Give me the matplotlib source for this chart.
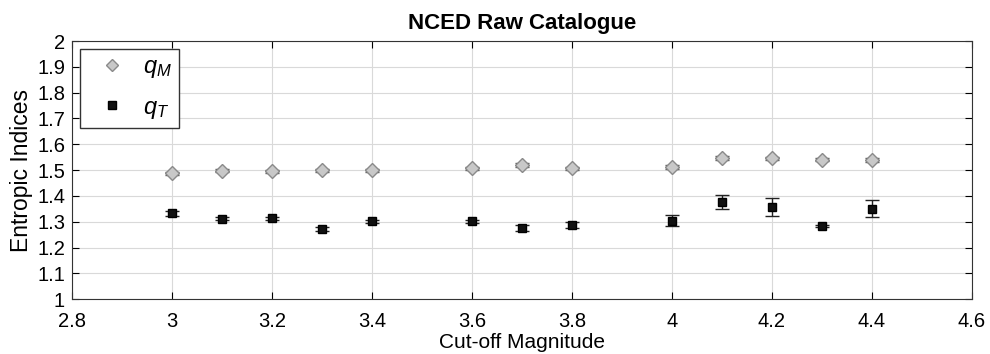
import matplotlib
matplotlib.use("Agg")
import matplotlib.pyplot as plt

plt.rcParams['font.family'] = ['Liberation Sans', 'DejaVu Sans']
plt.rcParams['mathtext.fontset'] = 'custom'
plt.rcParams['mathtext.it'] = 'Liberation Sans:italic'
plt.rcParams['mathtext.rm'] = 'Liberation Sans'

mag = [3.0, 3.1, 3.2, 3.3, 3.4, 3.6, 3.7, 3.8, 4.0, 4.1, 4.2, 4.3, 4.4]
qm = [1.488, 1.497, 1.495, 1.499, 1.500, 1.507, 1.519, 1.507, 1.513, 1.547, 1.545, 1.540, 1.539]
qm_err = [0.006, 0.006, 0.006, 0.006, 0.006, 0.006, 0.007, 0.006, 0.007, 0.008, 0.007, 0.006, 0.006]
qt = [1.332, 1.312, 1.313, 1.272, 1.301, 1.302, 1.276, 1.286, 1.304, 1.376, 1.357, 1.284, 1.351]
qt_err = [0.009, 0.007, 0.007, 0.008, 0.007, 0.006, 0.011, 0.011, 0.021, 0.028, 0.033, 0.005, 0.032]

fig = plt.figure(figsize=(9.9, 3.54), dpi=100)
ax = fig.add_axes([0.0727, 0.155, 0.909, 0.729])

# error bars first, markers on top
ax.errorbar(mag, qm, yerr=qm_err, fmt='none', ecolor='#555555', elinewidth=1, capsize=5)
ax.errorbar(mag, qt, yerr=qt_err, fmt='none', ecolor='#222222', elinewidth=1, capsize=5)
ax.plot(mag, qm, 'D', mfc='#c8c8c8', mec='#8a8a8a', ms=7, label='$q_M$')
ax.plot(mag, qt, 's', mfc='#111111', mec='black', ms=6, label='$q_T$')

ax.set_xlim(2.8, 4.6)
ax.set_ylim(1, 2)
ax.set_xticks([2.8, 3, 3.2, 3.4, 3.6, 3.8, 4, 4.2, 4.4, 4.6])
ax.set_xticklabels(['2.8', '3', '3.2', '3.4', '3.6', '3.8', '4', '4.2', '4.4', '4.6'])
ax.set_yticks([1, 1.1, 1.2, 1.3, 1.4, 1.5, 1.6, 1.7, 1.8, 1.9, 2])
ax.set_yticklabels(['1', '1.1', '1.2', '1.3', '1.4', '1.5', '1.6', '1.7', '1.8', '1.9', '2'])
ax.tick_params(direction='in', top=True, right=True, labelsize=14.5, length=5)
ax.tick_params(axis='x', pad=9)
ax.tick_params(axis='y', pad=5)
ax.grid(True, color='#d9d9d9', linewidth=0.8)
ax.set_axisbelow(True)
for s in ax.spines.values():
    s.set_color('#333333')

ax.set_xlabel('Cut-off Magnitude', fontsize=15, labelpad=2)
ax.set_ylabel('Entropic Indices', fontsize=16.5, labelpad=3)
ax.set_title('NCED Raw Catalogue', fontsize=16, fontweight='bold', pad=9)

leg = ax.legend(loc='upper left', bbox_to_anchor=(0.009, 0.969), fontsize=17, frameon=True,
                fancybox=False, edgecolor='#333333', framealpha=1, borderaxespad=0,
                borderpad=0.3, handlelength=2.1, handletextpad=0.25, labelspacing=0.7,
                markerscale=0.9)
leg.get_frame().set_linewidth(1)

plt.savefig('out.png', dpi=100)
